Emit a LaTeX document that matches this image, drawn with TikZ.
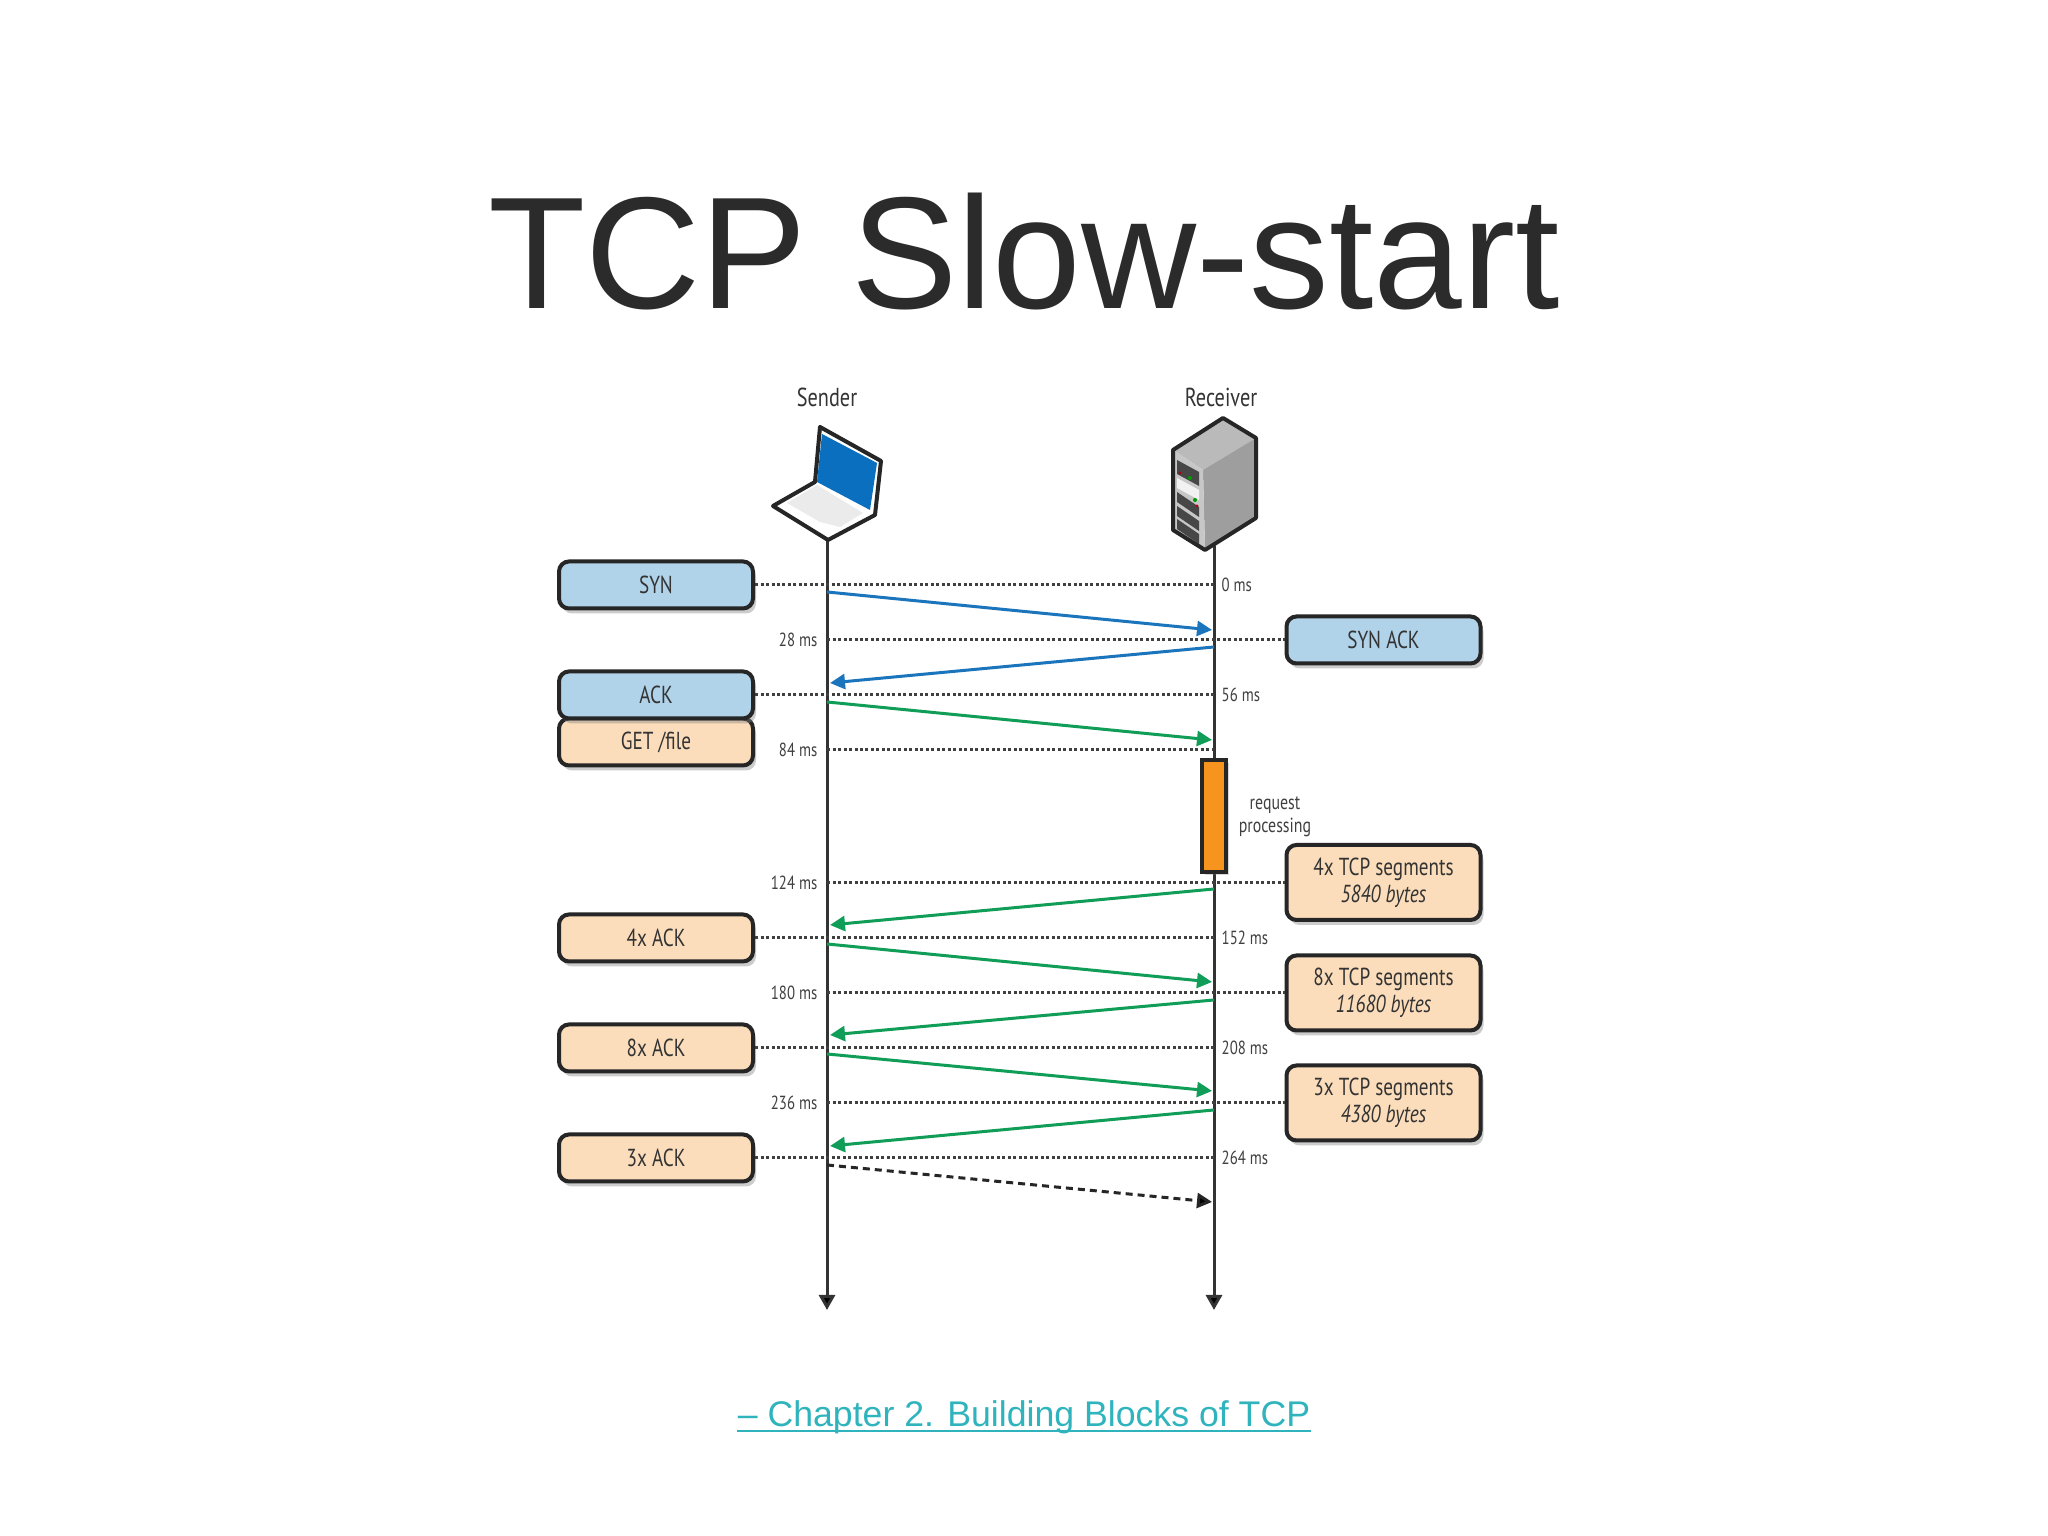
\documentclass[tikz,border=0pt]{standalone}
\usepackage{fontspec}
\setmainfont{Liberation Sans}
\newfontfamily\condfont[FakeStretch=0.78]{PT Sans}
\usetikzlibrary{calc,shadows,arrows.meta}
\definecolor{synblue}{HTML}{B0D3EA}
\definecolor{getpeach}{HTML}{FBDDBB}
\definecolor{arrowblue}{HTML}{1B75BC}
\definecolor{arrowgreen}{HTML}{0F9D58}
\definecolor{procorange}{HTML}{F7941E}
\definecolor{linkteal}{HTML}{2FB4BE}
\definecolor{inkgrey}{HTML}{333333}
\definecolor{screenblue}{HTML}{0B6FBF}
\tikzset{
	msgbox/.style={draw=black!85, line width=0.04cm, rounded corners=0.1cm, minimum width=1.94cm, inner sep=0pt, align=center, font=\condfont\fontsize{7pt}{7.6pt}\selectfont, text=inkgrey, drop shadow={shadow xshift=0.03cm, shadow yshift=-0.05cm, opacity=0.4}},
	shortbox/.style={msgbox, minimum height=0.47cm},
	tallbox/.style={msgbox, minimum height=0.75cm},
	timelabel/.style={font=\condfont\fontsize{5.4pt}{6pt}\selectfont, text=black!75, inner sep=0pt},
	dotline/.style={line width=0.03cm, dash pattern=on 0.03cm off 0.025cm, draw=black!75},
	axisline/.style={line width=0.03cm, draw=black!80},
	axistip/.style={-{Triangle[length=0.15cm,width=0.16cm,fill=black]}},
	msgblue/.style={line width=0.03cm, draw=arrowblue, -{Triangle[length=0.15cm,width=0.15cm,fill=arrowblue]}},
	msggreen/.style={line width=0.03cm, draw=arrowgreen, -{Triangle[length=0.15cm,width=0.15cm,fill=arrowgreen]}},
	msgdash/.style={line width=0.03cm, draw=black!85, dash pattern=on 0.07cm off 0.05cm, -{Triangle[length=0.15cm,width=0.15cm,fill=black]}},
	iconline/.style={draw=black!85, line width=0.04cm, line join=round},
}
\begin{document}
\begin{tikzpicture}
	%%%%% FRAME %%%%%
	\useasboundingbox (0, 0) rectangle (20.48, 15.36);
	\fill[white] (0, 0) rectangle (20.48, 15.36);

	\node[text=black!83, font=\fontsize{45.35pt}{50pt}\selectfont, inner sep=0pt, anchor=base] (title) at (10.24, 12.27) {TCP Slow-start};
	\node[text=linkteal, font=\fontsize{10.15pt}{12pt}\selectfont, inner sep=0pt, anchor=base] (source) at (10.24, 1.09) {– Chapter 2. Building Blocks of TCP};
	\draw[linkteal, line width=0.02cm] ($(source.base west)+(0,-0.04)$) -- ($(source.base east)+(0,-0.04)$);

	\node[font=\condfont\fontsize{7.4pt}{8pt}\selectfont, text=inkgrey, inner sep=0pt] (sender) at (8.27, 11.39) {Sender};
	\node[font=\condfont\fontsize{7.4pt}{8pt}\selectfont, text=inkgrey, inner sep=0pt] (receiver) at (12.21, 11.39) {Receiver};

	%%%%% AXES %%%%%
	\coordinate (stop) at (8.27, 9.97);
	\coordinate (send) at (8.27, 2.26);
	\coordinate (rtop) at (12.14, 9.9);
	\coordinate (rend) at (12.14, 2.26);
	\draw[axisline, axistip] (stop) -- (send);
	\draw[axisline, axistip] (rtop) -- (rend);

	%%%%% LAPTOP %%%%%
	\draw[iconline, fill=white] (8.20, 11.09) -- (8.81, 10.75) -- (8.75, 10.21) -- (8.28, 9.96) -- (7.73, 10.30) -- (8.15, 10.54) -- cycle;
	\fill[screenblue] (8.22, 11.02) -- (8.77, 10.73) -- (8.70, 10.26) -- (8.17, 10.54) -- cycle;
	\fill[black!8] (8.17, 10.51) -- (8.63, 10.23) -- (8.40, 10.09) -- (8.20, 10.14) -- (7.87, 10.33) -- cycle;

	%%%%% SERVER %%%%%
	\fill[black!27] (12.23, 11.18) -- (12.56, 10.98) -- (12.03, 10.66) -- (11.73, 10.86) -- cycle;
	\fill[black!38] (12.56, 10.98) -- (12.56, 10.18) -- (12.05, 9.86) -- (12.03, 10.66) -- cycle;
	\fill[black!22] (11.73, 10.86) -- (12.03, 10.66) -- (12.05, 9.86) -- (11.73, 10.06) -- cycle;
	\fill[black!72] (11.77, 10.76) -- (11.99, 10.64) -- (11.99, 10.50) -- (11.77, 10.62) -- cycle;
	\fill[black!5] (11.77, 10.58) -- (11.99, 10.46) -- (11.99, 10.36) -- (11.77, 10.48) -- cycle;
	\foreach \rowy in {10.44, 10.30, 10.17}
		\fill[black!72] (11.77, \rowy) -- (11.99, \rowy-0.15) -- (11.99, \rowy-0.25) -- (11.77, \rowy-0.10) -- cycle;
	\fill[red!70!black] (11.80, 10.63) circle (0.015);
	\fill[green!60!black] (11.90, 10.58) circle (0.02);
	\fill[green!60!black] (11.95, 10.36) circle (0.02);
	\fill[red!70!black] (11.97, 10.30) circle (0.015);
	\draw[iconline] (12.23, 11.18) -- (12.56, 10.98) -- (12.56, 10.18) -- (12.05, 9.86) -- (11.73, 10.06) -- (11.73, 10.86) -- cycle;

	%%%%% BOXES %%%%%
	\node[shortbox, fill=synblue] (syn) at (6.56, 9.51) {SYN};
	\node[shortbox, fill=synblue] (synack) at (13.835, 8.96) {SYN ACK};
	\node[shortbox, fill=getpeach] (get) at (6.56, 7.94) {GET /file};
	\node[shortbox, fill=synblue] (ack) at (6.56, 8.41) {ACK};
	\node[tallbox, fill=getpeach] (segfour) at (13.835, 6.535) {4x TCP segments\\\textit{5840 bytes}};
	\node[shortbox, fill=getpeach] (ackfour) at (6.56, 5.98) {4x ACK};
	\node[tallbox, fill=getpeach] (segeight) at (13.835, 5.43) {8x TCP segments\\\textit{11680 bytes}};
	\node[shortbox, fill=getpeach] (ackeight) at (6.56, 4.88) {8x ACK};
	\node[tallbox, fill=getpeach] (segthree) at (13.835, 4.33) {3x TCP segments\\\textit{4380 bytes}};
	\node[shortbox, fill=getpeach] (ackthree) at (6.56, 3.78) {3x ACK};

	\node[draw=black!85, line width=0.035cm, fill=procorange, minimum width=0.24cm, minimum height=1.12cm, inner sep=0pt, drop shadow={shadow xshift=0.03cm, shadow yshift=-0.03cm, opacity=0.3}] (proc) at (12.14, 7.2) {};
	\node[timelabel, align=center, font=\condfont\fontsize{5.8pt}{6.7pt}\selectfont] (proclabel) at (12.75, 7.19) {request\\processing};

	%%%%% TIMES %%%%%
	\node[timelabel, anchor=west] (tzero) at (12.21, 9.51) {0 ms};
	\node[timelabel, anchor=east] (ttwo) at (8.18, 8.96) {28 ms};
	\node[timelabel, anchor=west] (tfive) at (12.21, 8.41) {56 ms};
	\node[timelabel, anchor=east] (teight) at (8.18, 7.86) {84 ms};
	\node[timelabel, anchor=east] (tone) at (8.18, 6.53) {124 ms};
	\node[timelabel, anchor=west] (tonefive) at (12.21, 5.98) {152 ms};
	\node[timelabel, anchor=east] (toneeight) at (8.18, 5.43) {180 ms};
	\node[timelabel, anchor=west] (tnull) at (12.21, 4.88) {208 ms};
	\node[timelabel, anchor=east] (ttwothree) at (8.18, 4.33) {236 ms};
	\node[timelabel, anchor=west] (ttwosix) at (12.21, 3.78) {264 ms};

	%%%%% DOTTED %%%%%
	\draw[dotline] (syn.east) -- (syn.east -| rtop);
	\draw[dotline] (stop |- synack.west) -- (synack.west);
	\draw[dotline] (ack.east) -- (ack.east -| rtop);
	\draw[dotline] (stop |- teight.east) -- (rtop |- teight.east);
	\draw[dotline] (stop |- segfour.west) -- (segfour.west);
	\draw[dotline] (ackfour.east) -- (ackfour.east -| rtop);
	\draw[dotline] (stop |- segeight.west) -- (segeight.west);
	\draw[dotline] (ackeight.east) -- (ackeight.east -| rtop);
	\draw[dotline] (stop |- segthree.west) -- (segthree.west);
	\draw[dotline] (ackthree.east) -- (ackthree.east -| rtop);

	%%%%% MESSAGES %%%%%
	\coordinate (sa) at (8.27, 9.44);
	\coordinate (ra) at (12.12, 9.06);
	\coordinate (rb) at (12.14, 8.89);
	\coordinate (sb) at (8.30, 8.53);
	\coordinate (sc) at (8.27, 8.34);
	\coordinate (rc) at (12.12, 7.96);
	\coordinate (rd) at (12.14, 6.47);
	\coordinate (sd) at (8.30, 6.11);
	\coordinate (se) at (8.27, 5.92);
	\coordinate (re) at (12.12, 5.54);
	\coordinate (rf) at (12.14, 5.36);
	\coordinate (sf) at (8.30, 5.01);
	\coordinate (sg) at (8.27, 4.82);
	\coordinate (rg) at (12.12, 4.45);
	\coordinate (rh) at (12.14, 4.26);
	\coordinate (sh) at (8.30, 3.90);
	\coordinate (si) at (8.27, 3.71);
	\coordinate (ri) at (12.12, 3.34);
	\draw[msgblue] (sa) -- (ra);
	\draw[msgblue] (rb) -- (sb);
	\draw[msggreen] (sc) -- (rc);
	\draw[msggreen] (rd) -- (sd);
	\draw[msggreen] (se) -- (re);
	\draw[msggreen] (rf) -- (sf);
	\draw[msggreen] (sg) -- (rg);
	\draw[msggreen] (rh) -- (sh);
	\draw[msgdash] (si) -- (ri);
\end{tikzpicture}
\end{document}
